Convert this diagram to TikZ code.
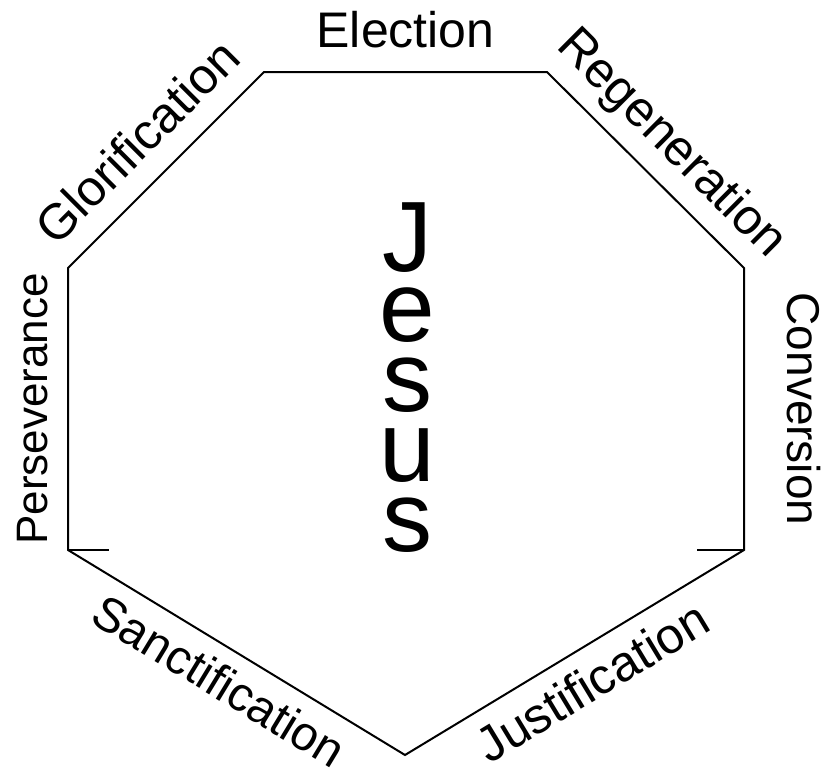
\documentclass[tikz,border=0pt]{standalone}
\usepackage{fontspec}
\setmainfont{Liberation Sans}
\usepackage{tikz}

\begin{document}
\begin{tikzpicture}[x=1pt, y=-1pt, line width=2pt,
  lbl/.style={font=\fontsize{50}{50}\selectfont, inner xsep=0pt, text height=36pt, text depth=0pt, midway}]

\useasboundingbox (0,0) rectangle (823,771);

% 顶点
\coordinate (a) at (264,72);
\coordinate (b) at (547,72);
\coordinate (c) at (744,268);
\coordinate (d) at (744,550);
\coordinate (e) at (405,755);
\coordinate (f) at (68,550);
\coordinate (g) at (68,268);
\coordinate (fl) at (109,550);
\coordinate (dr) at (697,550);

% 边
\draw (a) -- (b) -- (c) -- (d) -- (e) -- (f) -- (g) -- cycle;
\draw (f) -- (fl);
\draw (d) -- (dr);

% 标签
\path (a) -- (b) node[lbl, above, inner ysep=24pt] (elec) {Election};
\path (g) -- (a) node[lbl, sloped, above, inner ysep=22pt] (glor) {Glorification};
\path (b) -- (c) node[lbl, sloped, above, inner ysep=22pt] (rege) {Regeneration};
\path (c) -- (d) node[lbl, rotate=-90, anchor=south, inner ysep=42pt, font=\fontsize{46}{46}\selectfont, text height=33pt] (conv) {Conversion};
\path (f) -- (g) node[lbl, rotate=90, anchor=south, inner ysep=23pt, yshift=-3pt, font=\fontsize{44}{44}\selectfont, text height=31pt] (pers) {Perseverance};
\path (f) -- (e) node[lbl, sloped, below, inner ysep=14pt, font=\fontsize{48}{48}\selectfont, text height=35pt] (sanc) {Sanctification};
\path (e) -- (d) node[lbl, sloped, below, inner ysep=15pt] (just) {Justification};

% 中间
\node[font=\fontsize{100}{70}\selectfont, align=center, inner sep=0pt, anchor=north] (jesus) at (407,202) {J\\e\\s\\u\\s};

\end{tikzpicture}
\end{document}
